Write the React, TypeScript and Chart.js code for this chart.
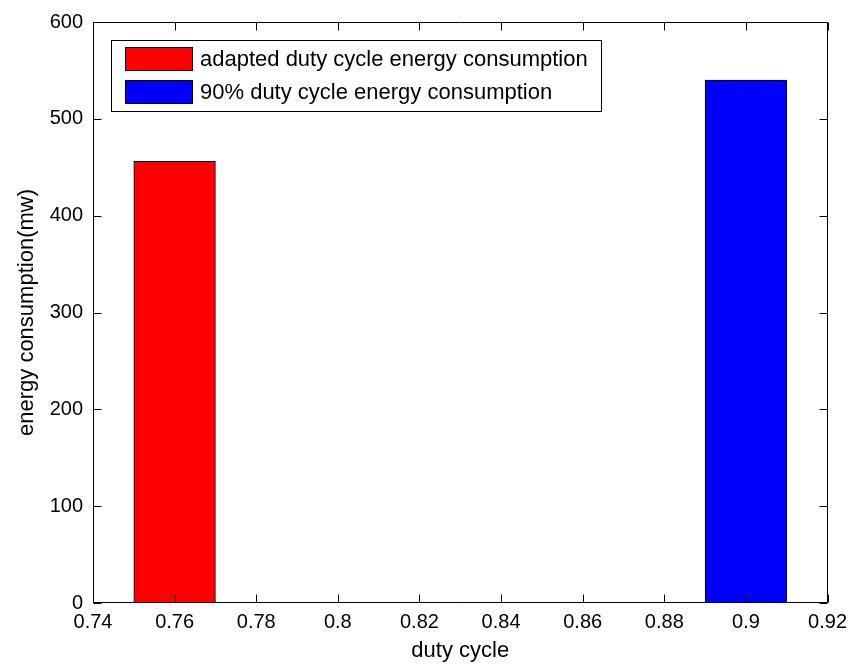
import React, { useEffect, useRef } from 'react';
import { Chart, registerables } from 'chart.js';

Chart.register(...registerables);

// ---- data ----
const seriesLabels = ['adapted duty cycle energy consumption', '90% duty cycle energy consumption'];
const dutyCycles = [0.76, 0.9];
const energyValues = [456, 540];
const seriesColors = ['#ff0000', '#0000ff'];
const xTickLabels = ['0.74', '0.76', '0.78', '0.8', '0.82', '0.84', '0.86', '0.88', '0.9', '0.92'];
const yTickLabels = ['0', '100', '200', '300', '400', '500', '600'];
const xTitle = 'duty cycle';
const yTitle = 'energy consumption(mw)';

const FONT = "'Liberation Sans', Arial, Helvetica, sans-serif";

const frameAndLegend = {
  id: 'frameAndLegend',
  afterDatasetsDraw(chart: any) {
    const { ctx, chartArea: a, scales } = chart;
    ctx.save();
    ctx.strokeStyle = '#000';
    ctx.lineWidth = 1;
    const L = Math.round(a.left) + 0.5;
    const R = Math.round(a.right) - 0.5;
    const T = Math.round(a.top) + 0.5;
    const B = Math.round(a.bottom) - 0.5;
    ctx.beginPath();
    ctx.rect(L, T, R - L, B - T);
    ctx.stroke();
    const tl = 8;
    ctx.beginPath();
    scales.x.ticks.forEach((_t: any, i: number) => {
      const px = Math.round(scales.x.getPixelForTick(i)) + 0.5;
      ctx.moveTo(px, B);
      ctx.lineTo(px, B - tl);
      ctx.moveTo(px, T);
      ctx.lineTo(px, T + tl);
    });
    scales.y.ticks.forEach((_t: any, i: number) => {
      const py = Math.round(scales.y.getPixelForTick(i)) + 0.5;
      ctx.moveTo(L, py);
      ctx.lineTo(L + tl, py);
      ctx.moveTo(R, py);
      ctx.lineTo(R - tl, py);
    });
    ctx.stroke();
    ctx.restore();
  },
  afterDraw(chart: any) {
    const { ctx, chartArea: a } = chart;
    const ds = chart.data.datasets;
    ctx.save();
    ctx.font = `22px ${FONT}`;
    const padL = 14, swW = 68, swH = 24, gap = 7, padR = 13, padT = 7, rowGap = 9;
    let maxW = 0;
    ds.forEach((d: any) => { maxW = Math.max(maxW, ctx.measureText(d.label).width); });
    const bx = Math.round(a.left) + 18;
    const by = Math.round(a.top) + 18;
    const bw = Math.round(padL + swW + gap + maxW + padR);
    const bh = padT * 2 + ds.length * swH + (ds.length - 1) * rowGap;
    ctx.fillStyle = '#fff';
    ctx.fillRect(bx, by, bw, bh);
    ctx.strokeStyle = '#000';
    ctx.lineWidth = 1;
    ctx.strokeRect(bx + 0.5, by + 0.5, bw, bh);
    ds.forEach((d: any, i: number) => {
      const sx = bx + padL;
      const sy = by + padT + i * (swH + rowGap);
      ctx.fillStyle = d.backgroundColor;
      ctx.fillRect(sx, sy, swW, swH);
      ctx.strokeStyle = '#000';
      ctx.strokeRect(sx + 0.5, sy + 0.5, swW - 1, swH - 1);
      ctx.fillStyle = '#000';
      ctx.textBaseline = 'middle';
      ctx.textAlign = 'left';
      ctx.fillText(d.label, sx + swW + gap, sy + swH / 2 + 1);
    });
    ctx.restore();
  },
};

export default function App() {
  const canvasRef = useRef<HTMLCanvasElement | null>(null);

  useEffect(() => {
    document.body.style.margin = '0';
    const canvas = canvasRef.current;
    if (!canvas) return;
    const chart = new Chart(canvas, {
      type: 'bar',
      data: {
        datasets: seriesLabels.map((label, i) => ({
          label,
          data: [{ x: dutyCycles[i], y: energyValues[i] }],
          backgroundColor: seriesColors[i],
          borderColor: '#000',
          borderWidth: 1,
          grouped: false,
          barPercentage: 1,
          categoryPercentage: 1,
        })),
      },
      options: {
        responsive: false,
        animation: false,
        devicePixelRatio: 1,
        layout: { autoPadding: false, padding: { top: 20, right: 25, left: 0, bottom: 0 } },
        plugins: {
          legend: { display: false },
          tooltip: { enabled: false },
        },
        scales: {
          x: {
            type: 'linear',
            min: 0.74,
            max: 0.92,
            offset: false,
            grid: { display: false, offset: false, drawTicks: false },
            border: { display: false },
            ticks: {
              stepSize: 0.02,
              color: '#000',
              padding: 7,
              maxRotation: 0,
              autoSkip: false,
              font: { family: FONT, size: 20 },
              callback: (_v: any, i: number) => xTickLabels[i],
            },
            title: {
              display: true,
              text: xTitle,
              color: '#000',
              font: { family: FONT, size: 22 },
              padding: { top: 0, bottom: 0 },
            },
            afterFit: (s: any) => { s.height = 61; },
          },
          y: {
            min: 0,
            max: 600,
            grid: { display: false, drawTicks: false },
            border: { display: false },
            ticks: {
              stepSize: 100,
              color: '#000',
              padding: 10,
              font: { family: FONT, size: 20 },
              callback: (_v: any, i: number) => yTickLabels[i],
            },
            title: {
              display: true,
              text: yTitle,
              color: '#000',
              font: { family: FONT, size: 22 },
              padding: { top: 14, bottom: 0 },
            },
            afterFit: (s: any) => { s.width = 93; },
          },
        },
      },
      plugins: [frameAndLegend],
    } as any);
    return () => chart.destroy();
  }, []);

  return (
    <div style={{ position: 'absolute', left: 0, top: 0, width: 854, height: 664, background: '#fff' }}>
      <canvas ref={canvasRef} width={854} height={664} />
    </div>
  );
}
